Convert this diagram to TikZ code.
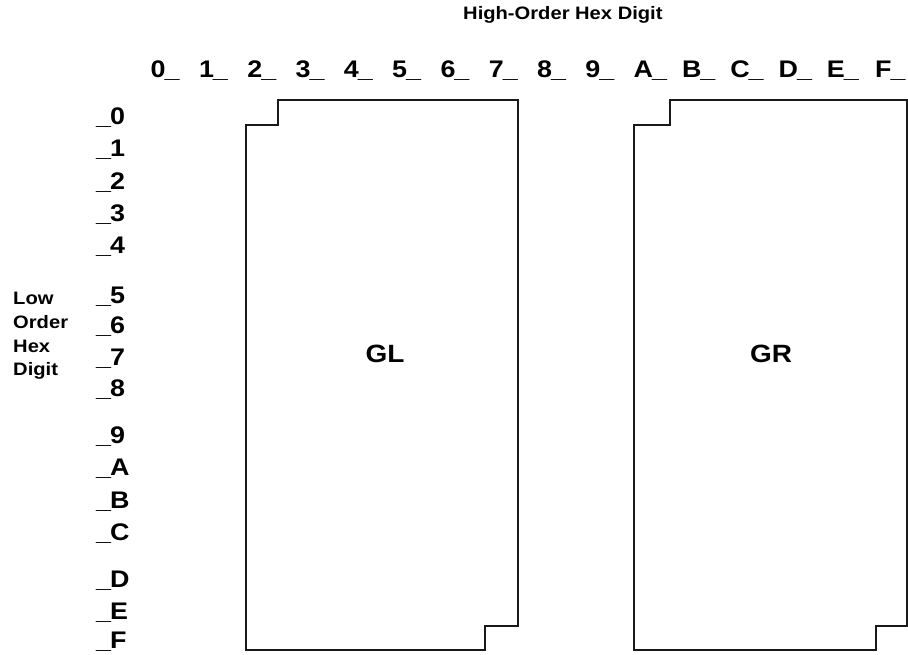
\documentclass[tikz,border=0pt]{standalone}
\usepackage{fontspec}
\setmainfont[FakeStretch=1.12]{Liberation Sans}
\begin{document}
\begin{tikzpicture}[x=1pt,y=-1pt,
  frame/.style={line width=2pt,line join=miter,draw=black!90},
  digit/.style={anchor=base west,inner sep=0pt,font=\fontsize{24}{28}\selectfont\bfseries},
  side/.style={anchor=base west,inner sep=0pt,font=\fontsize{18}{22}\selectfont\bfseries},
  area/.style={inner sep=0pt,font=\fontsize{25}{30}\selectfont\bfseries}]
\useasboundingbox (0,0) rectangle (908,655);
% title
\node[side] (title) at (463,20) {High-Order Hex Digit};
% column labels
\foreach \c [count=\i from 0] in {0,1,2,3,4,5,6,7,8,9,A,B,C,D,E,F}
  \node[digit] (col\c) at ({150.5+48.3*\i},78) {\c\kern-1pt\_};
% row labels
\foreach \r/\yy in {0/125,1/157,2/190,3/222,4/254,5/303,6/334,7/365,8/396,9/443,A/475,B/508,C/540,D/587,E/619,F/648}
  \node[digit] (row\r) at (96,\yy) {\_\kern-1pt\r};
% left caption
\node[side] (low) at (13,305) {Low};
\node[side] (order) at (13,328) {Order};
\node[side] (hex) at (13,352) {Hex};
\node[side] (dig) at (13,375) {Digit};
% GL area
\draw[frame] (278,100) -- (518,100) -- (518,626) -- (485,626) -- (485,650) -- (246,650) -- (246,125) -- (278,125) -- cycle;
\node[area] (GL) at (385,354) {GL};
% GR area
\draw[frame] (670,100) -- (906.5,100) -- (906.5,626) -- (876,626) -- (876,650) -- (634,650) -- (634,125) -- (670,125) -- cycle;
\node[area] (GR) at (771,354) {GR};
\end{tikzpicture}
\end{document}
